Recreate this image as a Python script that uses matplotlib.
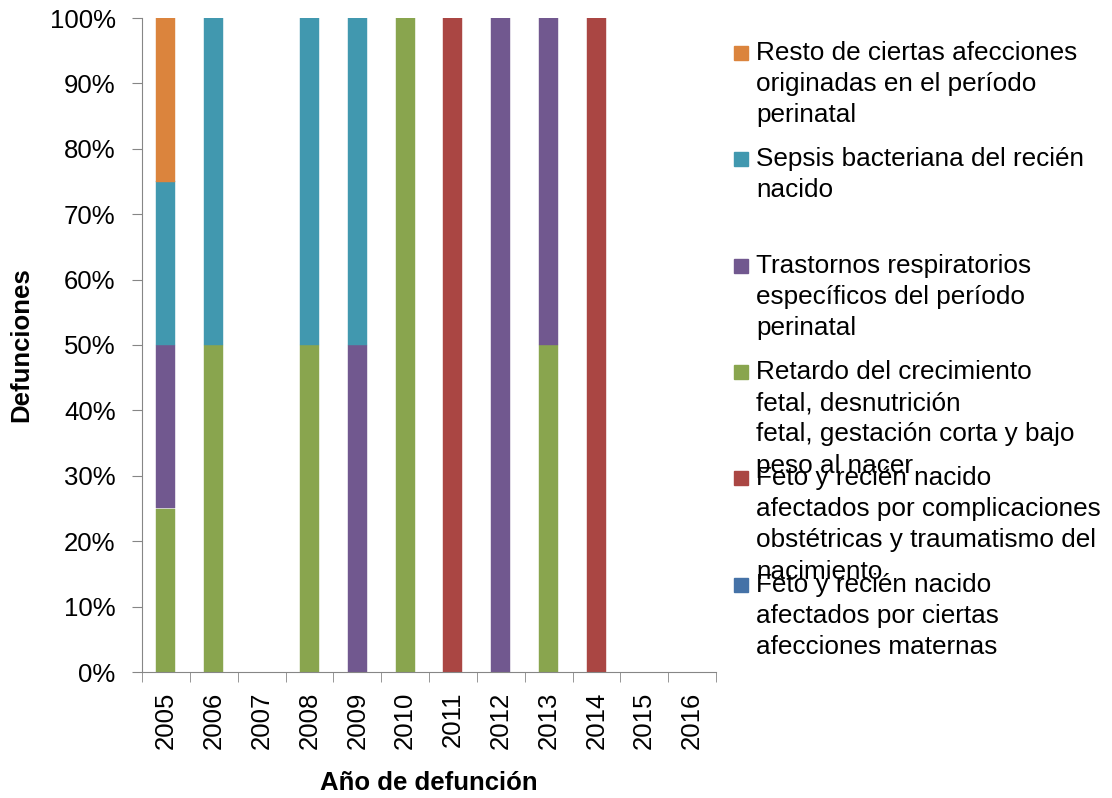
import matplotlib
matplotlib.use("Agg")
import matplotlib.pyplot as plt
import numpy as np
from matplotlib.ticker import PercentFormatter
from matplotlib.patches import Rectangle

plt.rcParams["font.family"] = ["Liberation Sans", "DejaVu Sans"]

years = ["2005", "2006", "2007", "2008", "2009", "2010",
         "2011", "2012", "2013", "2014", "2015", "2016"]

# defunciones por causa (de abajo hacia arriba en la pila)
maternas      = [0, 0, 0, 0, 0, 0, 0, 0, 0, 0, 0, 0]
complicac     = [0, 0, 0, 0, 0, 0, 1, 0, 0, 1, 0, 0]
retardo       = [1, 1, 0, 1, 0, 1, 0, 0, 1, 0, 0, 0]
respiratorios = [1, 0, 0, 0, 1, 0, 0, 1, 1, 0, 0, 0]
sepsis        = [1, 1, 0, 1, 1, 0, 0, 0, 0, 0, 0, 0]
resto         = [1, 0, 0, 0, 0, 0, 0, 0, 0, 0, 0, 0]

labels = [
    "Feto y recién nacido\nafectados por ciertas\nafecciones maternas",
    "Feto y recién nacido\nafectados por complicaciones\nobstétricas y traumatismo del\nnacimiento",
    "Retardo del crecimiento\nfetal, desnutrición\nfetal, gestación corta y bajo\npeso al nacer",
    "Trastornos respiratorios\nespecíficos del período\nperinatal",
    "Sepsis bacteriana del recién\nnacido",
    "Resto de ciertas afecciones\noriginadas en el período\nperinatal",
]
colors = ["#4572A7", "#AA4643", "#89A54E", "#71588F", "#4198AF", "#DB843D"]

series = np.array([maternas, complicac, retardo, respiratorios, sepsis, resto], float)
tot = series.sum(axis=0)
pct = np.divide(series, tot, out=np.zeros_like(series), where=tot > 0)

FS = 18.5
fig = plt.figure(figsize=(11.12, 7.98), dpi=100)
W, H = 1112, 798
ax = fig.add_axes([142 / W, 1 - 672 / H, (716 - 142) / W, (672 - 18) / H])

x = np.arange(len(years))
bottom = np.zeros(len(years))
for vals, c in zip(pct, colors):
    lw = [0.3 if v > 0 else 0 for v in vals]
    ax.bar(x, vals, 0.4, bottom=bottom, color=c, edgecolor=c, linewidth=lw)
    bottom += vals

ax.set_xlim(-0.5, len(years) - 0.5)
ax.set_ylim(0, 1)
ax.set_yticks(np.arange(0, 1.01, 0.1))
ax.yaxis.set_major_formatter(PercentFormatter(1.0, decimals=0))
ax.set_xticks(x)
ax.set_xticklabels(years, rotation=90, fontsize=FS)
ax.set_xticks(np.arange(-0.5, len(years)), minor=True)
ax.tick_params(axis="x", which="major", length=0, pad=14)
ax.tick_params(axis="x", which="minor", length=7, color="#868686", direction="out")
ax.tick_params(axis="y", length=7, color="#868686", labelsize=FS, pad=12)
for s in ["top", "right"]:
    ax.spines[s].set_visible(False)
for s in ["left", "bottom"]:
    ax.spines[s].set_color("#868686")

ax.set_ylabel("Defunciones", fontsize=FS, fontweight="bold", labelpad=12)
ax.set_xlabel("Año de defunción", fontsize=FS, fontweight="bold", labelpad=16)

# leyenda manual (orden inverso, como en el original)
ys = [53, 159, 266, 372, 478, 585]
for lab, c, yy in zip(labels[::-1], colors[::-1], ys):
    fig.patches.append(Rectangle((734 / W, 1 - (yy + 7) / H), 14 / W, 14 / H,
                                 transform=fig.transFigure, color=c))
    fig.text(756 / W, 1 - (yy - 12) / H, lab, fontsize=18.8, va="top",
             linespacing=1.38)

fig.savefig("out.png", dpi=100)
